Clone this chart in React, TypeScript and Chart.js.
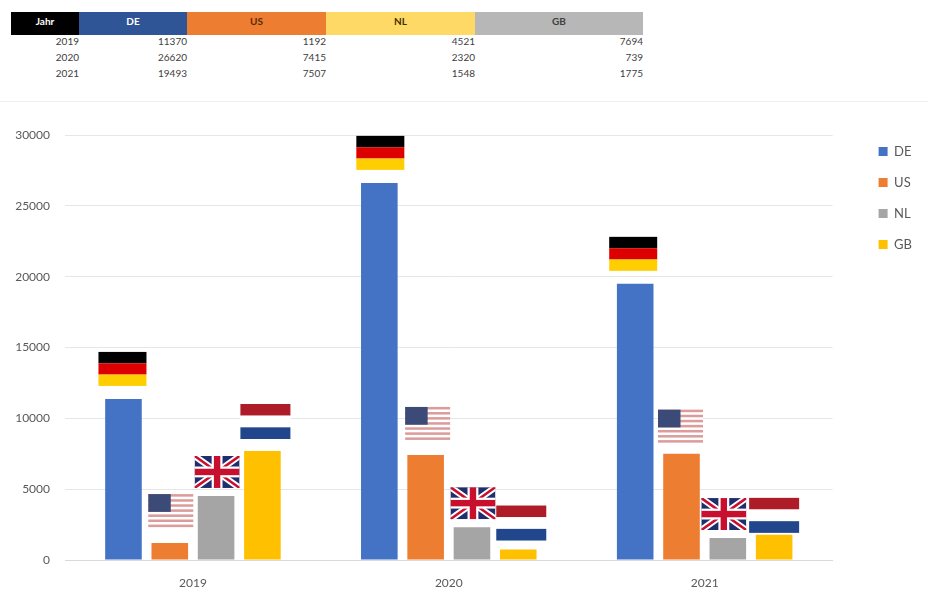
import React, { useEffect, useRef } from "react";
import { Chart, registerables } from "chart.js";

Chart.register(...registerables);

const years = ["2019", "2020", "2021"];
const de = [11370, 26620, 19493];
const us = [1192, 7415, 7507];
const nl = [4521, 2320, 1548];
const gb = [7694, 739, 1775];
const yearCol = ["2019", "2020", "2021"];
const headers = ["Jahr", "DE", "US", "NL", "GB"];
const headerBg = ["#000000", "#2f5597", "#ed7d31", "#ffd966", "#b7b7b7"];
const headerFg = ["#ffffff", "#ffffff", "#5b2a05", "#3f3000", "#404040"];
const colEdges = [11, 79, 187, 326, 475, 643];
const colors = ["#4472c4", "#ed7d31", "#a5a5a5", "#ffc000"];
const seriesNames = ["DE", "US", "NL", "GB"];

// flag drawn above each bar: [gap above the bar, horizontal nudge] per year
const flagGapDE = [[13, -1], [13, 1], [13, -2]];
const flagGapUS = [[16, 1], [15, 2], [11, -1]];
const flagGapUK = [[8, 1], [8, 1], [8, -4]];
const flagGapNL = [[12, 3], [9, 3], [2, 0]];

type Ctx = CanvasRenderingContext2D;

function drawDE(c: Ctx, x: number, y: number, w: number, h: number) {
  c.fillStyle = "#000000"; c.fillRect(x, y, w, h / 3);
  c.fillStyle = "#dd0000"; c.fillRect(x, y + h / 3, w, h / 3);
  c.fillStyle = "#ffce00"; c.fillRect(x, y + (2 * h) / 3, w, h / 3);
}
function drawUS(c: Ctx, x: number, y: number, w: number, h: number) {
  const s = h / 13;
  c.fillStyle = "#ffffff"; c.fillRect(x, y, w, h);
  c.fillStyle = "#dd9c9c";
  for (let i = 0; i < 13; i += 2) c.fillRect(x, y + i * s, w, s);
  c.fillStyle = "#3c4a78"; c.fillRect(x, y, w * 0.5, s * 7);
}
function drawUK(c: Ctx, x: number, y: number, w: number, h: number) {
  c.save();
  c.beginPath(); c.rect(x, y, w, h); c.clip();
  c.fillStyle = "#1f2f6e"; c.fillRect(x, y, w, h);
  const diag = (color: string, lw: number) => {
    c.strokeStyle = color; c.lineWidth = lw;
    c.beginPath();
    c.moveTo(x, y); c.lineTo(x + w, y + h);
    c.moveTo(x + w, y); c.lineTo(x, y + h);
    c.stroke();
  };
  diag("#ffffff", h * 0.2);
  diag("#c8102e", h * 0.08);
  c.fillStyle = "#ffffff";
  c.fillRect(x + w / 2 - h * 0.17, y, h * 0.34, h);
  c.fillRect(x, y + h / 2 - h * 0.17, w, h * 0.34);
  c.fillStyle = "#c8102e";
  c.fillRect(x + w / 2 - h * 0.1, y, h * 0.2, h);
  c.fillRect(x, y + h / 2 - h * 0.1, w, h * 0.2);
  c.restore();
}
function drawNL(c: Ctx, x: number, y: number, w: number, h: number) {
  c.fillStyle = "#ae1c28"; c.fillRect(x, y, w, h / 3);
  c.fillStyle = "#ffffff"; c.fillRect(x, y + h / 3, w, h / 3);
  c.fillStyle = "#21468b"; c.fillRect(x, y + (2 * h) / 3, w, h / 3);
}

const flagDefs = [
  { draw: drawDE, gaps: flagGapDE, w: 48, h: 34 },
  { draw: drawUS, gaps: flagGapUS, w: 45, h: 33 },
  { draw: drawUK, gaps: flagGapUK, w: 45, h: 32 },
  { draw: drawNL, gaps: flagGapNL, w: 50, h: 35 },
];

const flagPlugin = {
  id: "flags",
  afterDatasetsDraw(chart: any) {
    const c: Ctx = chart.ctx;
    flagDefs.forEach((f, ds) => {
      chart.getDatasetMeta(ds).data.forEach((bar: any, i: number) => {
        const [gap, nudge] = f.gaps[i];
        f.draw(c, bar.x + nudge - f.w / 2, bar.y - gap - f.h, f.w, f.h);
      });
    });
  },
};

// widen the space kept for the legend, and place its labels inside that space
const legendRoom = 26;
const legendShift = 28;
const legendLift = 8;
const legendPlace = {
  id: "legendPlace",
  beforeLayout(chart: any) {
    const l = chart.legend;
    if (!l || l.__wrapped) return;
    const fit = l.fit;
    l.fit = function () {
      fit.call(this);
      this.width += legendRoom;
    };
    l.__wrapped = true;
  },
  afterLayout(chart: any) {
    const l = chart.legend;
    l.left += legendShift;
    l.top -= legendLift;
  },
};

export default function App() {
  const ref = useRef<HTMLCanvasElement>(null);
  useEffect(() => {
    const chart = new Chart(ref.current!, {
      type: "bar",
      data: {
        labels: years,
        datasets: [de, us, nl, gb].map((d, i) => ({
          label: seriesNames[i],
          data: d,
          backgroundColor: colors[i],
          categoryPercentage: 0.724,
          barPercentage: 0.79,
        })),
      },
      plugins: [flagPlugin, legendPlace],
      options: {
        responsive: false,
        animation: false,
        layout: { padding: { top: 33, right: 8, bottom: 0, left: 0 } },
        plugins: {
          tooltip: { enabled: false },
          legend: {
            position: "right",
            align: "start",
            labels: {
              boxWidth: 9,
              boxHeight: 9,
              padding: 18,
              color: "#595959",
              font: { family: "Lato", size: 13 },
            },
          },
        },
        scales: {
          x: {
            grid: { display: false },
            border: { color: "#d9d9d9" },
            ticks: { color: "#595959", font: { family: "Lato", size: 12 }, padding: 8 },
            afterFit(s: any) { s.height = 39; },
          },
          y: {
            min: 0,
            max: 30000,
            ticks: {
              stepSize: 5000,
              color: "#595959",
              font: { family: "Lato", size: 12 },
              padding: 15,
              callback: (v: any) => String(v),
            },
            grid: { color: "#e6e6e6", drawTicks: false },
            border: { display: false },
            afterFit(s: any) { s.width = 65; },
          },
        },
      },
    } as any);
    return () => chart.destroy();
  }, []);

  const rows = [de, us, nl, gb];
  return (
    <div style={{ position: "absolute", left: 0, top: 0, width: 928, height: 599, overflow: "hidden", background: "#fff", fontFamily: "Lato" }}>
      {headers.map((h, i) => (
        <div key={h} style={{ position: "absolute", left: colEdges[i], width: colEdges[i + 1] - colEdges[i], top: 12, height: 23, lineHeight: "19px", textAlign: "center", background: headerBg[i], color: headerFg[i], fontSize: 10, fontWeight: 700 }}>
          {h}
        </div>
      ))}
      {yearCol.map((y, r) => (
        <React.Fragment key={y}>
          <div style={{ position: "absolute", right: 928 - colEdges[1], top: 33 + r * 16, fontSize: 10, lineHeight: "16px", color: "#404040" }}>{y}</div>
          {rows.map((col, c) => (
            <div key={c} style={{ position: "absolute", right: 928 - colEdges[c + 2], top: 33 + r * 16, fontSize: 10, lineHeight: "16px", color: "#404040" }}>{col[r]}</div>
          ))}
        </React.Fragment>
      ))}
      <div style={{ position: "absolute", left: 0, top: 101, width: 928, borderTop: "1px solid #eeeeee" }} />
      <canvas ref={ref} width={928} height={497} style={{ position: "absolute", left: 0, top: 102, width: 928, height: 497 }} />
    </div>
  );
}
